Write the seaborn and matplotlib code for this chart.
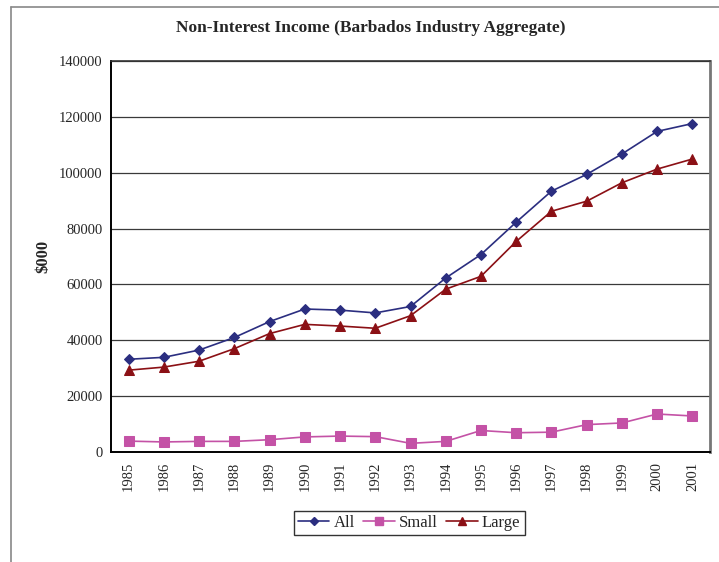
import matplotlib
matplotlib.use("Agg")
import matplotlib.pyplot as plt
from matplotlib.lines import Line2D
import pandas as pd
import seaborn as sns

# Data ($000)
years = [str(y) for y in range(1985, 2002)]
all_banks = [33200, 33900, 36500, 41000, 46700, 51200, 50800, 49800, 52100,
             62300, 70700, 82300, 93400, 99400, 106700, 114800, 117600]
small_banks = [3900, 3600, 3800, 3800, 4400, 5400, 5700, 5500, 3100,
               3800, 7700, 6900, 7100, 9800, 10400, 13600, 12900]
large_banks = [29300, 30400, 32500, 37000, 42400, 45700, 45100, 44300, 48800,
               58300, 62900, 75400, 86200, 89800, 96400, 101300, 104900]

series = {"All": all_banks, "Small": small_banks, "Large": large_banks}
df = pd.DataFrame([
    {"pos": i, "year": y, "series": name, "value": vals[i]}
    for name, vals in series.items() for i, y in enumerate(years)
])

colors = {"All": "#2B2E80", "Small": "#C452A6", "Large": "#8B1015"}
markers = {"All": "D", "Small": "s", "Large": "^"}
msize = {"All": 5, "Small": 6.5, "Large": 6.5}

sns.set_style("white")
plt.rcParams["font.family"] = ["Liberation Serif", "DejaVu Serif"]

fig = plt.figure(figsize=(7.19, 5.62), dpi=100)
ax = fig.add_axes([111 / 719, 110 / 562, 599 / 719, 391 / 562])

for name in series:
    sub = df[df["series"] == name]
    sns.lineplot(data=sub, x="pos", y="value", ax=ax, color=colors[name],
                 marker=markers[name], markersize=msize[name],
                 markeredgecolor=colors[name], linewidth=1.2, label=name,
                 legend=False)

ax.set_xlim(-0.5, len(years) - 0.5)
ax.set_ylim(0, 140000)
ax.set_yticks(range(0, 140001, 20000))
ax.set_yticklabels([str(v) for v in range(0, 140001, 20000)], fontsize=10.5)
ax.yaxis.grid(True, color="#3a3a3a", linewidth=0.9)
ax.set_axisbelow(True)

ax.set_xticks(range(len(years)))
ax.set_xticklabels(years, rotation=90, fontsize=10.5)
ax.set_xticks([i - 0.5 for i in range(len(years) + 1)], minor=True)
ax.tick_params(axis="x", which="major", length=0, pad=7)
ax.tick_params(axis="x", which="minor", length=4, width=1, color="black",
               direction="out")
ax.tick_params(axis="y", length=4, width=1, color="black", direction="out",
               pad=2)

ax.set_xlabel("")
ax.set_ylabel("$000", fontsize=12, fontweight="bold")
ax.yaxis.set_label_coords(-0.10, 0.5)

for side in ["left", "bottom"]:
    ax.spines[side].set_color("black")
    ax.spines[side].set_linewidth(1.4)
ax.spines["top"].set_color("#333333")
ax.spines["top"].set_linewidth(1.2)
ax.spines["right"].set_color("#777777")
ax.spines["right"].set_linewidth(2)

fig.text(0.516, 0.950, "Non-Interest Income (Barbados Industry Aggregate)",
         ha="center", va="center", fontsize=12.5, fontweight="bold")

handles = [Line2D([], [], color=colors[n], marker=markers[n],
                  markersize=msize[n] - 0.5, markeredgecolor=colors[n],
                  linewidth=1.2) for n in series]
leg = fig.legend(handles, list(series), loc="center",
                 bbox_to_anchor=(0.569, 0.069), ncol=3, fontsize=12,
                 frameon=True, fancybox=False, handlelength=1.9,
                 handletextpad=0.25, columnspacing=0.5, borderpad=0.25,
                 borderaxespad=0, edgecolor="black")
leg.get_frame().set_linewidth(1.0)

# outer chart-area border (left and top edges visible in the crop)
fig.add_artist(Line2D([11 / 719, 11 / 719], [0, 1 - 7 / 562],
                      color="#888888", linewidth=1.2))
fig.add_artist(Line2D([11 / 719, 1], [1 - 7 / 562, 1 - 7 / 562],
                      color="#888888", linewidth=1.2))

fig.savefig("out.png", dpi=100)
